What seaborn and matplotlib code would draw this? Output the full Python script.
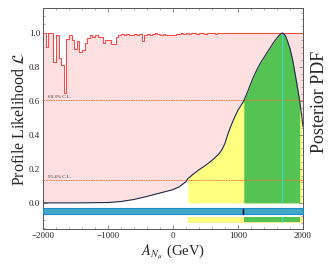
import numpy as np
import pandas as pd
import matplotlib
matplotlib.use('Agg')
import matplotlib.pyplot as plt
import seaborn as sns
from matplotlib.ticker import MultipleLocator, NullFormatter

#-----------------------------------#
# data

# profile likelihood, 40 GeV bins from -2000 to 2000
bin_edges = np.arange(-2000, 2001, 40)
likelihood = [1.0, 0.915, 1.0, 1.0, 0.83, 0.99, 0.85, 0.81, 0.645, 0.965,
              0.985, 0.96, 0.905, 0.95, 0.885, 0.90, 0.94, 0.97, 0.99, 0.975,
              0.99, 0.975, 0.975, 0.94, 0.96, 0.96, 0.935, 0.935, 0.975, 0.99,
              0.995, 0.99, 0.995, 0.99, 0.99, 0.995, 0.99, 0.995, 0.955, 0.99,
              0.995, 0.99, 0.995, 1.0, 0.995, 0.99, 0.995, 0.99, 0.985, 0.985,
              0.99, 0.995, 0.995, 1.0, 0.995, 1.0, 0.995, 1.0, 1.0, 0.995,
              1.0, 1.0, 0.995, 1.0, 1.0, 1.0, 0.995, 1.0, 1.0, 1.0,
              1.0, 1.0, 1.0, 1.0, 1.0, 1.0, 1.0, 1.0, 1.0, 1.0,
              1.0, 1.0, 1.0, 1.0, 1.0, 1.0, 1.0, 1.0, 1.0, 1.0,
              1.0, 1.0, 1.0, 1.0, 1.0, 1.0, 1.0, 1.0, 1.0, 1.0]

# posterior pdf (normalised to peak)
post_x = [-2000, -1500, -1000, -800, -600, -400, -200, 0, 100, 200, 230, 300,
          400, 500, 600, 700, 750, 800, 850, 900, 950, 1000, 1050, 1090, 1150,
          1200, 1250, 1300, 1350, 1400, 1450, 1500, 1550, 1600, 1640, 1680,
          1720, 1750, 1800, 1850, 1900, 1950, 1985, 2000]
post_y = [0.0, 0.0, 0.002, 0.008, 0.02, 0.038, 0.058, 0.078, 0.095, 0.125, 0.143, 0.165,
          0.195, 0.22, 0.25, 0.285, 0.31, 0.35, 0.41, 0.46, 0.505, 0.545, 0.575, 0.60, 0.655,
          0.705, 0.75, 0.79, 0.825, 0.855, 0.885, 0.915, 0.945, 0.97, 0.988, 1.0,
          0.99, 0.965, 0.91, 0.825, 0.715, 0.60, 0.50, 0.45]

cl_levels = [0.607, 0.135]
cl_labels = ['68.3% C.L.', '95.4% C.L.']
cred95 = (230, 1985)
cred68 = (1090, 1950)
post_mode = 1680
best_fit = 1080

#-----------------------------------#
sns.set_theme(style='ticks')
plt.rcParams['font.family'] = ['Liberation Serif', 'DejaVu Serif']
plt.rcParams['mathtext.fontset'] = 'stix'

lk = pd.DataFrame({'x': bin_edges, 'L': likelihood + [likelihood[-1]]})
po = pd.DataFrame({'x': post_x, 'p': post_y})

fig = plt.figure(figsize=(3.3, 2.64), dpi=100)
ax = fig.add_axes([0.130, 0.133, 0.788, 0.837])

# profile likelihood
ax.fill_between(lk['x'], 0, lk['L'], step='post', color='#ffe0e1', lw=0, zorder=1)
sns.lineplot(data=lk, x='x', y='L', drawstyle='steps-post', color='#ff4040',
             lw=0.7, ax=ax, zorder=4)

for lev, lab in zip(cl_levels, cl_labels):
    ax.axhline(lev, color='#ff6a30', lw=0.6, ls=(0, (2, 1)), zorder=3)
    ax.text(-1920, lev + 0.012, lab, fontsize=3.6, color='#333333', zorder=6)

# posterior
xp = po['x'].values
yp = po['p'].values
ax.fill_between(xp, 0, yp, color='white', lw=0, zorder=2)
ax.fill_between(xp, 0, yp, where=(xp >= cred95[0]) & (xp <= cred95[1]),
                color='#ffff80', lw=0, zorder=2)
ax.fill_between(xp, 0, yp, where=(xp >= cred68[0]) & (xp <= cred68[1]),
                color='#55c353', lw=0, zorder=2)
ax.plot([post_mode, post_mode], [0, 1.0], color='#30e0e0', lw=0.8, zorder=3)
sns.lineplot(data=po, x='x', y='p', color='#1b2a4a', lw=0.8, ax=ax, zorder=5)

# interval bars below zero
ax.fill_between([-2000, 2000], -0.068, -0.033, color='#40a8c8', ec='#1f88c8', lw=0.8, zorder=3)
ax.plot([best_fit, best_fit], [-0.066, -0.035], color='black', lw=1.0, zorder=4)
ax.fill_between(list(cred95), -0.114, -0.082, color='#ffff80', ec='#f5e870', lw=0.5, zorder=3)
ax.fill_between(list(cred68), -0.114, -0.082, color='#55c353', lw=0, zorder=3)
ax.plot([post_mode, post_mode], [-0.114, -0.082], color='#30e0e0', lw=0.8, zorder=4)

ax.set_xlim(-2000, 2000)
ax.set_ylim(-0.153, 1.147)
ax.xaxis.set_major_locator(MultipleLocator(1000))
ax.xaxis.set_minor_locator(MultipleLocator(200))
ax.yaxis.set_major_locator(MultipleLocator(0.2))
ax.yaxis.set_minor_locator(MultipleLocator(0.05))
ax.set_yticks([0.0, 0.2, 0.4, 0.6, 0.8, 1.0])
ax.set_yticklabels(['0.0', '0.2', '0.4', '0.6', '0.8', '1.0'])
ax.tick_params(which='both', direction='in', top=True, labelsize=6.5,
               color='#666666', pad=2)
ax.tick_params(which='major', length=3, width=0.5)
ax.tick_params(which='minor', length=1.5, width=0.4)
for s in ax.spines.values():
    s.set_color('#555555')
    s.set_linewidth(0.7)

ax.set_xlabel(r'$A_{N_\mu}$ (GeV)', fontsize=10.5, labelpad=2)
ax.set_ylabel(r'Profile Likelihood $\mathcal{L}$', fontsize=11.5, labelpad=1)

ax2 = ax.twinx()
ax2.set_ylim(ax.get_ylim())
ax2.yaxis.set_major_locator(MultipleLocator(0.2))
ax2.yaxis.set_minor_locator(MultipleLocator(0.04))
ax2.yaxis.set_major_formatter(NullFormatter())
ax2.tick_params(which='both', direction='in', color='#666666')
ax2.tick_params(which='major', length=3, width=0.5)
ax2.tick_params(which='minor', length=1.5, width=0.4)
for s in ax2.spines.values():
    s.set_visible(False)
fig.text(0.968, 0.615, 'Posterior PDF', rotation=90, ha='center', va='center',
         fontsize=13)

plt.savefig('out.png', dpi=100)
plt.close()
